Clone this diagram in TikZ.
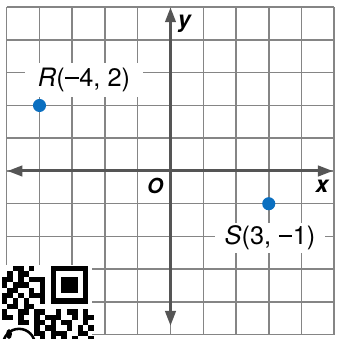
\documentclass[tikz,border=0pt]{standalone}
\usepackage{fontspec}
\setmainfont{TeX Gyre Heros}
\usetikzlibrary{arrows.meta}
\definecolor{gridc}{HTML}{858585}
\definecolor{axisc}{HTML}{555555}
\definecolor{ptblue}{HTML}{0B6FC0}
\newcommand{\mymin}{\hspace{0.03em}\rule[0.30em]{0.52em}{0.075em}\hspace{0.03em}}
\begin{document}
\begin{tikzpicture}[
  gridline/.style={draw=gridc, line width=1.3pt},
  axisline/.style={draw=axisc, line width=2.6pt, {Triangle[length=13pt,width=9pt]}-{Triangle[length=13pt,width=9pt]}},
  ptdot/.style={circle, fill=ptblue, inner sep=0pt, minimum size=0.4cm},
  coordlabel/.style={fill=white, inner sep=0pt, font=\fontsize{22}{26}\selectfont},
  axislabel/.style={font=\fontsize{20}{24}\selectfont\bfseries\itshape, inner sep=0pt},
]
\useasboundingbox (-5.206,-5.130) rectangle (5.115,5.221);
% grid
\draw[gridline] (-5,-5) grid (5,5);
% axes
\coordinate (xl) at (-4.98,0);
\coordinate (xr) at (4.96,0);
\coordinate (yb) at (0,-4.73);
\coordinate (yt) at (0,5.0);
\draw[axisline] (xl) -- (xr);
\draw[axisline] (yb) -- (yt);
% axis labels
\node[axislabel] (ylab) at (0.42,4.49) {y};
\node[axislabel] (xlab) at (4.63,-0.46) {x};
\node[axislabel, font=\fontsize{18}{22}\selectfont\bfseries\itshape] (olab) at (-0.47,-0.45) {O};
% coordinate labels
\node[coordlabel, minimum width=3.6cm, minimum height=1.04cm] (Rlab) at (-2.64,2.78) {\textit{R}(\mymin4, 2)\hspace{0.21cm}};
\node[coordlabel, minimum width=3.36cm, minimum height=0.92cm] (Slab) at (3.04,-2.05) {\textit{S}(3, \mymin1)\hspace{0.34cm}};
% points
\node[ptdot] (R) at (-4,2) {};
\node[ptdot] (S) at (3,-1) {};
% QR code patch
\begin{scope}[shift={(-5.145,-2.901)}, x=0.1649cm, y=-0.1649cm]
  \fill[white] (-0.4,-0.1) rectangle (16.7,13.5);
  \fill[black] (9,0) rectangle (16,7);
  \fill[white] (10,1) rectangle (15,6);
  \fill[black] (11,2) rectangle (14,5);
  \foreach \c/\r in {2/0,3/0,5/0,
                     1/1,3/1,4/1,
                     0/2,1/2,3/2,5/2,6/2,7/2,
                     0/3,2/3,3/3,4/3,7/3,
                     1/4,2/4,5/4,7/4,
                     0/5,1/5,3/5,5/5,6/5,7/5,
                     0/6,2/6,4/6,7/6,
                     1/7,2/7,4/7,5/7,
                     0/8,3/8,4/8,6/8,7/8,10/8,12/8,13/8,15/8,
                     0/9,1/9,3/9,6/9,8/9,9/9,10/9,13/9,15/9,16/9,
                     3/10,4/10,6/10,7/10,9/10,11/10,12/10,15/10,
                     6/11,8/11,9/11,12/11,14/11,16/11,
                     6/12,7/12,9/12,10/12,11/12,14/12,15/12,
                     7/13,9/13,11/13,13/13,16/13}
    \fill[black] (\c,\r) rectangle ++(1,1);
  \begin{scope}
    \clip (-0.4,-0.1) rectangle (16.7,13.5);
    \draw[black, line width=2.2pt] (3.15,14.6) circle[radius=0.4885cm];
    \fill[black] (1.3,12.6) ellipse[x radius=0.09cm, y radius=0.15cm];
  \end{scope}
\end{scope}
\end{tikzpicture}
\end{document}
